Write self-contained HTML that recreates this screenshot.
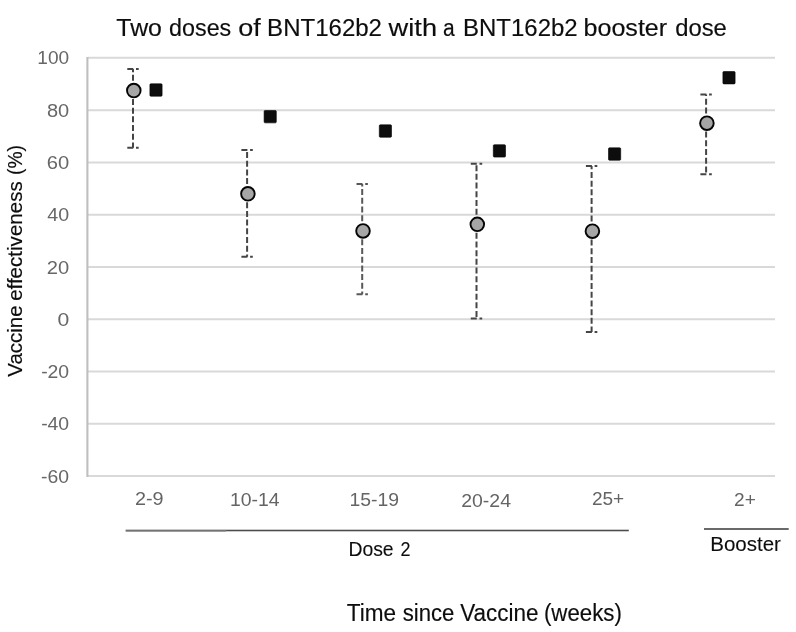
<!DOCTYPE html><html><head><meta charset="utf-8"><style>html,body{margin:0;padding:0;background:#fff;width:796px;height:632px;overflow:hidden;}svg{display:block;font-family:"Liberation Sans",sans-serif;will-change:transform;}</style></head><body>
<svg width="796" height="632" viewBox="0 0 796 632">
<rect width="796" height="632" fill="#fff"/>
<line x1="88" y1="57.85" x2="775" y2="57.85" stroke="#d9d9d9" stroke-width="2"/>
<line x1="88" y1="110.13" x2="775" y2="110.13" stroke="#d9d9d9" stroke-width="2"/>
<line x1="88" y1="162.41" x2="775" y2="162.41" stroke="#d9d9d9" stroke-width="2"/>
<line x1="88" y1="214.69" x2="775" y2="214.69" stroke="#d9d9d9" stroke-width="2"/>
<line x1="88" y1="266.97" x2="775" y2="266.97" stroke="#d9d9d9" stroke-width="2"/>
<line x1="88" y1="319.25" x2="775" y2="319.25" stroke="#d9d9d9" stroke-width="2"/>
<line x1="88" y1="371.53" x2="775" y2="371.53" stroke="#d9d9d9" stroke-width="2"/>
<line x1="88" y1="423.81" x2="775" y2="423.81" stroke="#d9d9d9" stroke-width="2"/>
<line x1="88" y1="476.09" x2="775" y2="476.09" stroke="#d9d9d9" stroke-width="2"/>
<line x1="87.4" y1="57" x2="87.4" y2="477" stroke="#bfbfbf" stroke-width="2.1"/>
<text x="37.35" y="64.45" font-size="18.8" fill="#676767" textLength="31.80" lengthAdjust="spacingAndGlyphs">100</text>
<text x="46.94" y="116.73" font-size="18.8" fill="#676767" textLength="22.25" lengthAdjust="spacingAndGlyphs">80</text>
<text x="46.77" y="169.01" font-size="18.8" fill="#676767" textLength="22.42" lengthAdjust="spacingAndGlyphs">60</text>
<text x="47.35" y="221.29" font-size="18.8" fill="#676767" textLength="21.82" lengthAdjust="spacingAndGlyphs">40</text>
<text x="46.79" y="273.57" font-size="18.8" fill="#676767" textLength="22.40" lengthAdjust="spacingAndGlyphs">20</text>
<text x="57.58" y="325.85" font-size="18.8" fill="#676767" textLength="11.75" lengthAdjust="spacingAndGlyphs">0</text>
<text x="41.15" y="378.13" font-size="18.8" fill="#676767" textLength="28.02" lengthAdjust="spacingAndGlyphs">-20</text>
<text x="41.15" y="430.41" font-size="18.8" fill="#676767" textLength="28.02" lengthAdjust="spacingAndGlyphs">-40</text>
<text x="41.05" y="482.69" font-size="18.8" fill="#676767" textLength="28.02" lengthAdjust="spacingAndGlyphs">-60</text>
<line x1="133.0" y1="89.53" x2="133.0" y2="69.00" stroke="#454545" stroke-width="2" stroke-dasharray="6 2.7"/>
<line x1="133.0" y1="90.23" x2="133.0" y2="147.70" stroke="#454545" stroke-width="2" stroke-dasharray="6 2.7"/>
<line x1="127.3" y1="69.00" x2="138.7" y2="69.00" stroke="#454545" stroke-width="2" stroke-dasharray="6 2.7"/>
<line x1="127.3" y1="147.70" x2="138.7" y2="147.70" stroke="#454545" stroke-width="2" stroke-dasharray="6 2.7"/>
<circle cx="133.8" cy="90.53" r="6.8" fill="#a6a6a6" stroke="#050505" stroke-width="1.9"/>
<rect x="149.9" y="83.80" width="12.2" height="12.4" rx="1" fill="#0d0d0d" stroke="#000" stroke-width="0.6"/>
<line x1="247.1" y1="192.78" x2="247.1" y2="150.00" stroke="#454545" stroke-width="2" stroke-dasharray="6 2.7"/>
<line x1="247.1" y1="193.48" x2="247.1" y2="256.70" stroke="#454545" stroke-width="2" stroke-dasharray="6 2.7"/>
<line x1="241.4" y1="150.00" x2="252.8" y2="150.00" stroke="#454545" stroke-width="2" stroke-dasharray="6 2.7"/>
<line x1="241.4" y1="256.70" x2="252.8" y2="256.70" stroke="#454545" stroke-width="2" stroke-dasharray="6 2.7"/>
<circle cx="247.9" cy="193.78" r="6.8" fill="#a6a6a6" stroke="#050505" stroke-width="1.9"/>
<rect x="264.1" y="110.47" width="12.2" height="12.4" rx="1" fill="#0d0d0d" stroke="#000" stroke-width="0.6"/>
<line x1="362.2" y1="229.90" x2="362.2" y2="184.00" stroke="#585858" stroke-width="2" stroke-dasharray="6 2.7"/>
<line x1="362.2" y1="230.60" x2="362.2" y2="294.20" stroke="#585858" stroke-width="2" stroke-dasharray="6 2.7"/>
<line x1="356.5" y1="184.00" x2="367.9" y2="184.00" stroke="#585858" stroke-width="2" stroke-dasharray="6 2.7"/>
<line x1="356.5" y1="294.20" x2="367.9" y2="294.20" stroke="#585858" stroke-width="2" stroke-dasharray="6 2.7"/>
<circle cx="363.0" cy="230.90" r="6.8" fill="#a6a6a6" stroke="#050505" stroke-width="1.9"/>
<rect x="379.3" y="124.84" width="12.2" height="12.4" rx="1" fill="#0d0d0d" stroke="#000" stroke-width="0.6"/>
<line x1="476.5" y1="223.36" x2="476.5" y2="163.80" stroke="#454545" stroke-width="2" stroke-dasharray="6 2.7"/>
<line x1="476.5" y1="224.06" x2="476.5" y2="318.50" stroke="#454545" stroke-width="2" stroke-dasharray="6 2.7"/>
<line x1="470.8" y1="163.80" x2="482.2" y2="163.80" stroke="#454545" stroke-width="2" stroke-dasharray="6 2.7"/>
<line x1="470.8" y1="318.50" x2="482.2" y2="318.50" stroke="#454545" stroke-width="2" stroke-dasharray="6 2.7"/>
<circle cx="477.3" cy="224.36" r="6.8" fill="#a6a6a6" stroke="#050505" stroke-width="1.9"/>
<rect x="493.3" y="144.71" width="12.2" height="12.4" rx="1" fill="#0d0d0d" stroke="#000" stroke-width="0.6"/>
<line x1="591.6" y1="230.16" x2="591.6" y2="165.90" stroke="#454545" stroke-width="2" stroke-dasharray="6 2.7"/>
<line x1="591.6" y1="230.86" x2="591.6" y2="332.00" stroke="#454545" stroke-width="2" stroke-dasharray="6 2.7"/>
<line x1="585.9" y1="165.90" x2="597.3" y2="165.90" stroke="#454545" stroke-width="2" stroke-dasharray="6 2.7"/>
<line x1="585.9" y1="332.00" x2="597.3" y2="332.00" stroke="#454545" stroke-width="2" stroke-dasharray="6 2.7"/>
<circle cx="592.4" cy="231.16" r="6.8" fill="#a6a6a6" stroke="#050505" stroke-width="1.9"/>
<rect x="608.5" y="147.85" width="12.2" height="12.4" rx="1" fill="#0d0d0d" stroke="#000" stroke-width="0.6"/>
<line x1="706.1" y1="122.20" x2="706.1" y2="94.50" stroke="#454545" stroke-width="2" stroke-dasharray="6 2.7"/>
<line x1="706.1" y1="122.90" x2="706.1" y2="174.20" stroke="#454545" stroke-width="2" stroke-dasharray="6 2.7"/>
<line x1="700.4" y1="94.50" x2="711.8" y2="94.50" stroke="#454545" stroke-width="2" stroke-dasharray="6 2.7"/>
<line x1="700.4" y1="174.20" x2="711.8" y2="174.20" stroke="#454545" stroke-width="2" stroke-dasharray="6 2.7"/>
<circle cx="706.9" cy="123.20" r="6.8" fill="#a6a6a6" stroke="#050505" stroke-width="1.9"/>
<rect x="722.9" y="71.52" width="12.2" height="12.4" rx="1" fill="#0d0d0d" stroke="#000" stroke-width="0.6"/>
<text x="116.35" y="36" font-size="23.3" fill="#0d0d0d" textLength="45.59" lengthAdjust="spacingAndGlyphs" stroke="#0d0d0d" stroke-width="0.15">Two</text>
<text x="169.12" y="36" font-size="23.3" fill="#0d0d0d" textLength="62.13" lengthAdjust="spacingAndGlyphs" stroke="#0d0d0d" stroke-width="0.15">doses</text>
<text x="238.27" y="36" font-size="23.3" fill="#0d0d0d" textLength="22.51" lengthAdjust="spacingAndGlyphs" stroke="#0d0d0d" stroke-width="0.15">of</text>
<text x="267.13" y="36" font-size="23.3" fill="#0d0d0d" textLength="114.87" lengthAdjust="spacingAndGlyphs" stroke="#0d0d0d" stroke-width="0.15">BNT162b2</text>
<text x="388.63" y="36" font-size="23.3" fill="#0d0d0d" textLength="48.45" lengthAdjust="spacingAndGlyphs" stroke="#0d0d0d" stroke-width="0.15">with</text>
<text x="442.92" y="36" font-size="23.3" fill="#0d0d0d" textLength="11.69" lengthAdjust="spacingAndGlyphs" stroke="#0d0d0d" stroke-width="0.15">a</text>
<text x="463.03" y="36" font-size="23.3" fill="#0d0d0d" textLength="114.66" lengthAdjust="spacingAndGlyphs" stroke="#0d0d0d" stroke-width="0.15">BNT162b2</text>
<text x="583.57" y="36" font-size="23.3" fill="#0d0d0d" textLength="83.57" lengthAdjust="spacingAndGlyphs" stroke="#0d0d0d" stroke-width="0.15">booster</text>
<text x="675.20" y="36" font-size="23.3" fill="#0d0d0d" textLength="51.66" lengthAdjust="spacingAndGlyphs" stroke="#0d0d0d" stroke-width="0.15">dose</text>
<g transform="translate(21.9,0) rotate(-90)">
<text x="-376.70" y="0" font-size="20.3" fill="#0d0d0d" textLength="71.31" lengthAdjust="spacingAndGlyphs" stroke="#0d0d0d" stroke-width="0.15">Vaccine</text>
<text x="-300.86" y="0" font-size="20.3" fill="#0d0d0d" textLength="119.61" lengthAdjust="spacingAndGlyphs" stroke="#0d0d0d" stroke-width="0.15">effectiveness</text>
<text x="-174.89" y="0" font-size="20.3" fill="#0d0d0d" textLength="29.89" lengthAdjust="spacingAndGlyphs" stroke="#0d0d0d" stroke-width="0.15">(%)</text>
</g>
<text x="135.01" y="505.2" font-size="19" fill="#646464" textLength="28.63" lengthAdjust="spacingAndGlyphs">2-9</text>
<text x="229.93" y="505.8" font-size="19" fill="#646464" textLength="49.55" lengthAdjust="spacingAndGlyphs">10-14</text>
<text x="349.43" y="505.9" font-size="19" fill="#646464" textLength="49.60" lengthAdjust="spacingAndGlyphs">15-19</text>
<text x="461.23" y="506.7" font-size="19" fill="#646464" textLength="49.75" lengthAdjust="spacingAndGlyphs">20-24</text>
<text x="591.95" y="505.2" font-size="19" fill="#646464" textLength="32.29" lengthAdjust="spacingAndGlyphs">25+</text>
<text x="734.04" y="505.6" font-size="19" fill="#646464" textLength="21.80" lengthAdjust="spacingAndGlyphs">2+</text>
<rect x="125.6" y="529.6" width="100.5" height="2.1" fill="#747474"/>
<rect x="226.1" y="529.7" width="402.7" height="1.6" fill="#4d4d4d"/>
<rect x="704" y="528.1" width="84.7" height="1.8" fill="#595959"/>
<text x="348.41" y="555.6" font-size="20.5" fill="#0d0d0d" textLength="45.25" lengthAdjust="spacingAndGlyphs" stroke="#0d0d0d" stroke-width="0.1">Dose</text>
<text x="400.40" y="555.6" font-size="20.5" fill="#0d0d0d" textLength="10.00" lengthAdjust="spacingAndGlyphs" stroke="#0d0d0d" stroke-width="0.1">2</text>
<text x="710.22" y="550.9" font-size="20.5" fill="#0d0d0d" textLength="70.74" lengthAdjust="spacingAndGlyphs" stroke="#0d0d0d" stroke-width="0.1">Booster</text>
<text x="346.70" y="621" font-size="23.3" fill="#0d0d0d" textLength="49.29" lengthAdjust="spacingAndGlyphs" stroke="#0d0d0d" stroke-width="0.15">Time</text>
<text x="402.68" y="621" font-size="23.3" fill="#0d0d0d" textLength="51.71" lengthAdjust="spacingAndGlyphs" stroke="#0d0d0d" stroke-width="0.15">since</text>
<text x="460.19" y="621" font-size="23.3" fill="#0d0d0d" textLength="78.41" lengthAdjust="spacingAndGlyphs" stroke="#0d0d0d" stroke-width="0.15">Vaccine</text>
<text x="543.92" y="621" font-size="23.3" fill="#0d0d0d" textLength="77.95" lengthAdjust="spacingAndGlyphs" stroke="#0d0d0d" stroke-width="0.15">(weeks)</text>
</svg></body></html>
